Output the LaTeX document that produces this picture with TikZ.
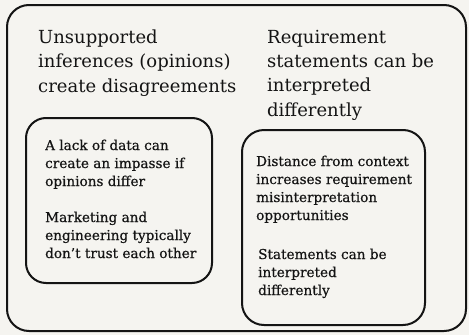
\documentclass[tikz,border=0pt]{standalone}
\usepackage{fontspec}
\setmainfont{DejaVu Serif}
\newfontfamily\smallfam[FakeBold=0.5,Ligatures=TeX]{DejaVu Serif}
\definecolor{paper}{HTML}{F5F4F0}
\definecolor{ink}{HTML}{141414}
\begin{document}
\begin{tikzpicture}[x=1pt,y=-1pt,
  frame/.style={draw=ink,line width=2pt,rounded corners=#1},
  head/.style={anchor=base west,inner sep=0pt,align=left,font=\fontsize{18}{24.3}\selectfont,text=ink},
  small/.style={anchor=base west,inner sep=0pt,align=left,font=\smallfam\fontsize{13.6}{18}\selectfont,text=ink}]
\useasboundingbox[fill=paper] (0,0) rectangle (469,335);
\draw[frame=22pt] (7,5) rectangle (466,331);
\draw[frame=20pt] (26,118) rectangle (212,283);
\draw[frame=22pt] (242,130) rectangle (425,325);
\node[head] (h1) at (38,92) {Unsupported\\inferences (opinions)\\create disagreements};
\node[head] (h2) at (267,116) {Requirement\\statements can be\\interpreted\\differently};
\node[small] (a1) at (45,186) {A lack of data can\\create an impasse if\\opinions differ};
\node[small] (a2) at (45,258) {Marketing and\\engineering typically\\don’t trust each other};
\node[small] (b1) at (256,220) {Distance from context\\increases requirement\\misinterpretation\\opportunities};
\node[small] (b2) at (258,295) {Statements can be\\interpreted\\differently};
\end{tikzpicture}
\end{document}
